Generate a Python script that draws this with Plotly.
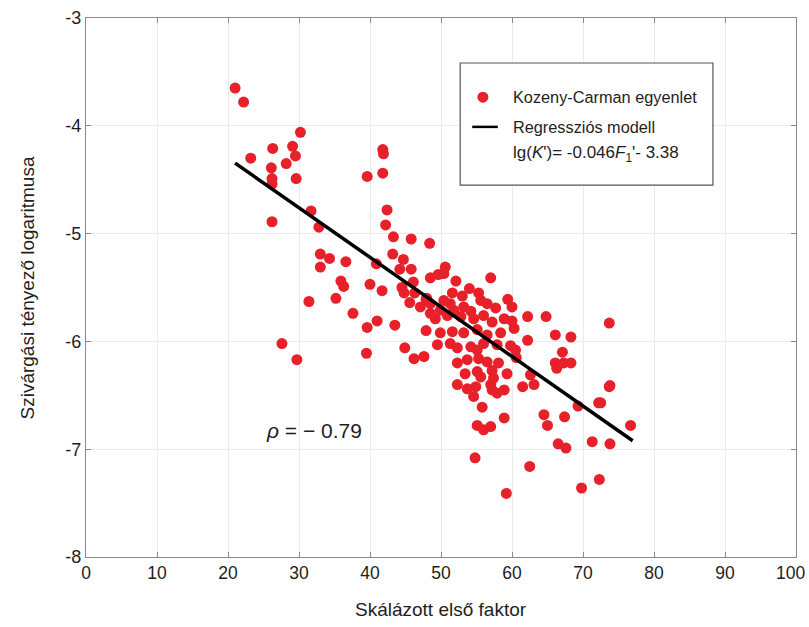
import plotly.graph_objects as go

# Scaled first factor (x) and log of hydraulic conductivity (y) from the Kozeny-Carman equation
factor = [
    21.0, 22.2, 30.2, 23.2, 26.3, 29.1, 29.5, 28.2, 41.8, 41.9, 26.1, 26.2, 26.2, 29.6, 39.6, 41.8,
    26.2, 31.7, 42.4, 32.8, 42.2, 43.3, 45.8, 48.4, 33.0, 34.3, 36.6, 43.2, 44.7, 33.0, 40.9, 44.2,
    45.8, 50.6,
    35.9, 36.3, 40.0, 41.7, 44.5, 44.8, 46.1, 46.3, 45.6, 47.1, 47.9, 48.5, 49.6, 50.4, 35.2, 31.4,
    37.6, 41.0, 39.6, 43.5, 47.9, 27.6, 29.7, 39.5, 44.9, 46.2, 47.6, 48.0, 48.5, 49.2, 49.9, 48.5,
    57.0, 52.1, 54.0, 51.6, 53.0, 55.3, 55.6, 59.4, 60.0, 50.4, 51.3, 51.8, 53.2, 54.2, 56.5, 57.7,
    50.9, 52.8, 54.6, 56.0, 57.2, 58.9, 60.0, 60.3, 62.2, 64.8, 73.7, 51.6, 53.2, 55.1, 56.5, 58.4,
    62.2, 66.1, 68.3, 49.9, 49.5, 51.3, 52.3, 54.2, 55.1, 56.0, 57.9, 59.8, 60.5, 60.6, 67.1, 66.1,
    66.3, 67.3, 68.3, 52.3, 53.7, 55.3, 56.5, 58.1, 53.4, 55.1, 57.2, 59.3, 55.6, 57.4, 62.6, 63.1,
    52.3, 53.7, 54.9, 54.6, 57.0, 57.2, 58.9, 57.9, 61.5, 69.3, 72.2, 72.5, 73.7, 73.8, 76.7, 55.8,
    64.5, 65.0, 67.4, 58.9, 55.1, 56.0, 57.0, 66.5, 67.6, 71.3, 73.8, 54.8, 62.5, 59.2, 69.8, 72.3,
]
log_k = [
    -3.65, -3.78, -4.06, -4.30, -4.21, -4.19, -4.28, -4.35, -4.22, -4.26, -4.39, -4.49, -4.54, -4.49, -4.47, -4.44,
    -4.89, -4.79, -4.78, -4.94, -4.92, -5.03, -5.05, -5.09, -5.19, -5.23, -5.26, -5.19, -5.24, -5.31, -5.28, -5.33,
    -5.33, -5.31,
    -5.44, -5.49, -5.47, -5.53, -5.50, -5.55, -5.45, -5.55, -5.64, -5.68, -5.61, -5.41, -5.38, -5.37, -5.60, -5.63,
    -5.74, -5.81, -5.87, -5.85, -5.90, -6.02, -6.17, -6.11, -6.06, -6.16, -6.14, -5.60, -5.74, -5.79, -5.71, -5.65,
    -5.41, -5.44, -5.51, -5.55, -5.58, -5.55, -5.62, -5.61, -5.68, -5.62, -5.65, -5.71, -5.68, -5.72, -5.65, -5.69,
    -5.76, -5.77, -5.79, -5.76, -5.82, -5.79, -5.81, -5.88, -5.77, -5.77, -5.83, -5.91, -5.92, -5.89, -5.94, -5.92,
    -5.99, -5.94, -5.96, -5.92, -6.03, -6.02, -6.06, -6.05, -6.08, -6.02, -6.03, -6.04, -6.08, -6.15, -6.10, -6.20,
    -6.25, -6.20, -6.20, -6.20, -6.17, -6.16, -6.19, -6.20, -6.30, -6.28, -6.27, -6.30, -6.33, -6.34, -6.31, -6.40,
    -6.40, -6.44, -6.42, -6.51, -6.40, -6.45, -6.45, -6.48, -6.42, -6.60, -6.57, -6.57, -6.42, -6.41, -6.78, -6.61,
    -6.68, -6.78, -6.70, -6.71, -6.78, -6.82, -6.79, -6.95, -6.99, -6.93, -6.95, -7.08, -7.16, -7.41, -7.36, -7.28,
]

# Regression model lg(K) = slope * F1' + intercept
slope = -0.046
intercept = -3.38
fit_x = [21.0, 77.0]
fit_y = [slope * v + intercept for v in fit_x]

rho = -0.79

x_ticks = [0, 10, 20, 30, 40, 50, 60, 70, 80, 90, 100]
x_tick_text = ["0", "10", "20", "30", "40", "50", "60", "70", "80", "90", "100"]
y_ticks = [-8, -7, -6, -5, -4, -3]
y_tick_text = ["-8", "-7", "-6", "-5", "-4", "-3"]

series_names = ["Kozeny-Carman egyenlet", "Regressziós modell"]
x_title = "Skálázott első faktor"
y_title = "Szivárgási tényező logaritmusa"

font_family = "Liberation Sans, Arial, sans-serif"
dot_color = "#e8202a"
text_color = "#1e1e1e"

fig = go.Figure()
fig.add_trace(go.Scatter(
    x=factor, y=log_k, mode="markers", name=series_names[0],
    marker=dict(color=dot_color, size=11, line=dict(width=0)),
))
fig.add_trace(go.Scatter(
    x=fit_x, y=fit_y, mode="lines", name=series_names[1],
    line=dict(color="black", width=3.5),
))

axis_common = dict(
    showgrid=True, gridcolor="#ebebeb", gridwidth=1,
    showline=True, linecolor="#8a8a8a", linewidth=1.2, mirror="ticks",
    ticks="inside", ticklen=5, tickcolor="#8a8a8a",
    ticklabeloverflow="allow", automargin=False,
    zeroline=False,
)

tick_font_x = dict(family=font_family, size=17.5, color=text_color)

fig.update_layout(
    width=809, height=627,
    margin=dict(l=86, r=13, t=18, b=70, autoexpand=False),
    paper_bgcolor="white", plot_bgcolor="white",
    font=dict(family=font_family, color=text_color),
    showlegend=False,
    # the rightmost x label sits on the frame edge and is drawn separately below
    xaxis=dict(range=[0, 100], tickvals=x_ticks[:-1], ticktext=x_tick_text[:-1],
               tickfont=tick_font_x, **axis_common),
    yaxis=dict(range=[-8, -3], tickvals=y_ticks, ticktext=y_tick_text,
               tickfont=dict(family=font_family, size=18, color=text_color),
               **axis_common),
)
fig.add_annotation(x=x_ticks[-1], xref="x", y=0, yref="paper",
                   xanchor="right", yanchor="middle", xshift=11, yshift=-16,
                   text=x_tick_text[-1], showarrow=False, font=tick_font_x)

# axis titles
fig.add_annotation(xref="paper", yref="paper", x=0.5, y=-0.0983,
                   xanchor="center", yanchor="middle", text=x_title, showarrow=False,
                   font=dict(family=font_family, size=19, color=text_color))
fig.add_annotation(xref="paper", yref="paper", x=-0.0817, y=0.5, textangle=-90,
                   xanchor="center", yanchor="middle", text=y_title, showarrow=False,
                   font=dict(family=font_family, size=19, color=text_color))

# legend panel: frame, symbols and labels
px_w, px_h = 710.0, 539.0
fig.add_shape(type="rect", xref="paper", yref="paper",
              x0=0.527, x1=0.883, y0=0.690, y1=0.9165,
              line=dict(color="#555", width=1.2), fillcolor="white", layer="above")
mx, my, r = 0.559, 0.853, 5.5
fig.add_shape(type="circle", xref="paper", yref="paper",
              x0=mx - r / px_w, x1=mx + r / px_w, y0=my - r / px_h, y1=my + r / px_h,
              line=dict(width=0), fillcolor=dot_color, layer="above")
fig.add_shape(type="line", xref="paper", yref="paper",
              x0=0.544, x1=0.580, y0=0.798, y1=0.798,
              line=dict(color="black", width=2.5), layer="above")
legend_rows = [
    (0.853, series_names[0], 16.3),
    (0.798, series_names[1], 16.3),
    (0.748, f"lg(<i>K</i>')= {slope:.3f}<i>F</i><sub>1</sub>'- {abs(intercept):.2f}", 17),
]
for ypos, label, fsize in legend_rows:
    fig.add_annotation(
        xref="paper", yref="paper", x=0.598, y=ypos, xanchor="left", yanchor="middle",
        text=label, showarrow=False,
        font=dict(family=font_family, size=fsize, color=text_color),
    )

fig.add_annotation(
    x=25.0, y=-6.83, xanchor="left", yanchor="middle",
    text=f"<i>ρ</i> = − {abs(rho):.2f}",
    showarrow=False, font=dict(family=font_family, size=21, color=text_color),
)

fig.write_html("out.html")
